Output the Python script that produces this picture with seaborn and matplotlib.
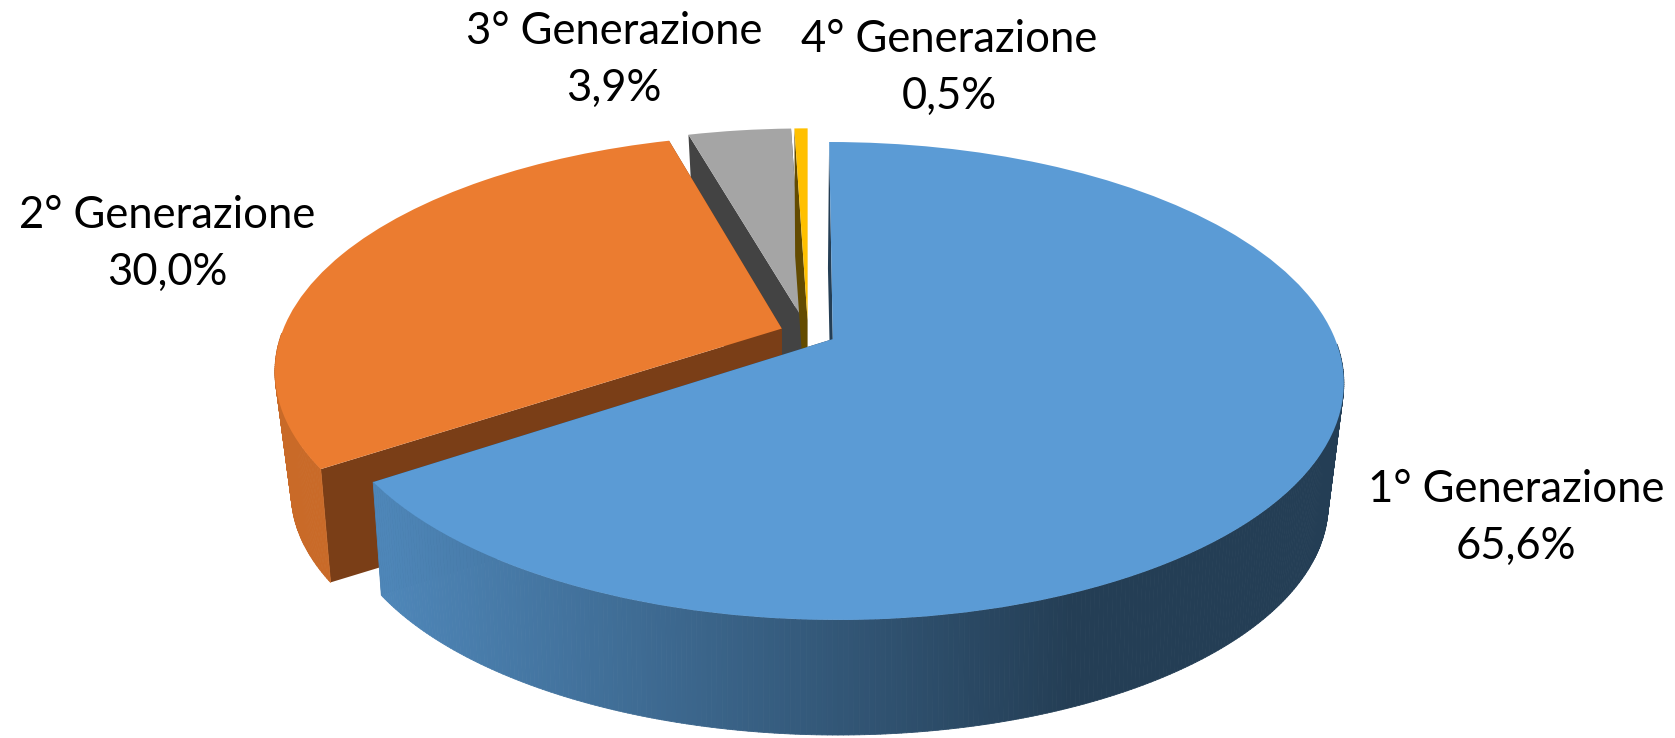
import numpy as np
import seaborn as sns
import matplotlib
matplotlib.use('Agg')
import matplotlib.pyplot as plt
from matplotlib.collections import PolyCollection
from matplotlib.colors import to_rgb
from matplotlib.transforms import Transform

# Data
generations = ['1° Generazione', '2° Generazione', '3° Generazione', '4° Generazione']
shares = [65.6, 30.0, 3.9, 0.5]

# Colours: top face, radial wall, rim near colour, rim far colour
top_colors = ['#5B9BD5', '#EB7C30', '#A5A5A5', '#FFC000']
side_colors = ['#243E55', '#7A3E17', '#434343', '#634B00']
rim_left = ['#4E86B8', '#C96A28', '#6E6E6E', '#8A6A00']
rim_right = ['#243E55', '#C96A28', '#6E6E6E', '#8A6A00']

# Perspective of the disc, in pixels of the output
CX, CY = 808, 333
A, B = 500, 229.5
K_TOP, K_BOTTOM = 0.1745, 0.20
SHRINK, DROP = 0.965, 116
EXPLODE = 0.056
GRAD_X0, GRAD_X1 = 386, 1068

label_xy = [(1516, 518), (167, 244), (614, 60), (949, 68)]
draw_order = [2, 3, 1, 0]


def project(x, y, bottom=False):
    # pie coordinates to pixels; y goes up in the pie, v goes to the viewer
    x, y = np.asarray(x, float), np.asarray(y, float)
    v = -y
    k = K_BOTTOM if bottom else K_TOP
    sx = x / (1 - k * v)
    sy = v / (1 - k * v)
    if bottom:
        return CX + SHRINK * A * sx, CY + DROP + SHRINK * B * sy
    return CX + A * sx, CY + B * sy


class TopFace(Transform):
    input_dims = output_dims = 2

    def transform_non_affine(self, values):
        px, py = project(values[:, 0], values[:, 1])
        return np.column_stack([px, py])


sns.set_theme(style='white')
plt.rcParams['font.family'] = ['Lato', 'DejaVu Sans']

fig = plt.figure(figsize=(16.75, 7.38), dpi=100, facecolor='white')
ax = fig.add_axes([0, 0, 1, 1])

wedges, _ = ax.pie(shares, explode=[EXPLODE] * 4, colors=top_colors, startangle=90,
                   counterclock=False, wedgeprops={'linewidth': 0})
ax.set_aspect('auto')
ax.set_xlim(0, 1675)
ax.set_ylim(738, 0)
ax.axis('off')

face = TopFace()
for rank, i in enumerate(draw_order):
    w = wedges[i]
    x0, y0 = w.center
    th = np.radians(np.linspace(w.theta1, w.theta2, max(int(w.theta2 - w.theta1) * 2, 6)))
    rx, ry = x0 + np.cos(th), y0 + np.sin(th)
    tx, ty = project(rx, ry)
    bx, by = project(rx, ry, bottom=True)

    # radial walls from the apex to both ends of the arc
    ax0, ay0 = project(x0, y0)
    ax1, ay1 = project(x0, y0, bottom=True)
    for end in (0, -1):
        ax.fill([ax0, tx[end], bx[end], ax1], [ay0, ty[end], by[end], ay1],
                color=side_colors[i], linewidth=0, zorder=10 + 3 * rank)

    # rim wall as narrow strips, only on the side that faces the viewer
    strips, shades = [], []
    c0, c1 = np.array(to_rgb(rim_left[i])), np.array(to_rgb(rim_right[i]))
    for j in range(len(th) - 1):
        if np.sin(th[j]) > -0.02 or np.sin(th[j + 1]) > -0.02:
            continue
        strips.append([(tx[j], ty[j]), (tx[j + 1], ty[j + 1]), (bx[j + 1], by[j + 1]), (bx[j], by[j])])
        t = np.clip(((tx[j] + bx[j]) / 2 - GRAD_X0) / (GRAD_X1 - GRAD_X0), 0, 1)
        shades.append(c0 + (c1 - c0) * t)
    if strips:
        ax.add_collection(PolyCollection(strips, facecolors=shades, edgecolors=shades,
                                         linewidths=0.6, zorder=11 + 3 * rank))

    # the top face is the wedge from ax.pie, seen through the perspective
    w.set_transform(face + ax.transData)
    w.set_zorder(12 + 3 * rank)
    w.set_clip_on(False)

for i, name in enumerate(generations):
    value = f'{shares[i]:.1f}'.replace('.', ',') + '%'
    ax.text(label_xy[i][0], label_xy[i][1], name + '\n' + value, ha='center', va='center',
            fontsize=31.4, color='black', linespacing=1.47, zorder=50)

fig.savefig('out.png', dpi=100)
